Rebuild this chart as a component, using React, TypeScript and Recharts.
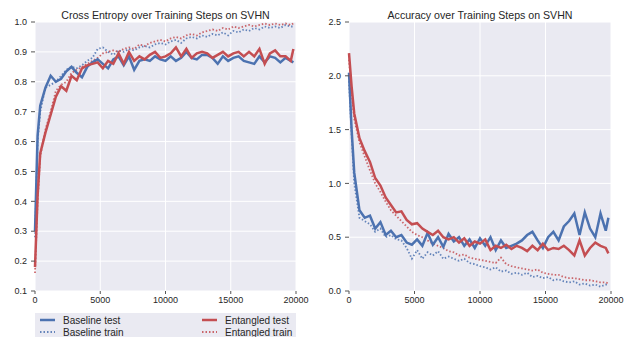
import { LineChart, Line, XAxis, YAxis, CartesianGrid } from 'recharts'

const BLUE = '#4c72b0'
const RED = '#c44e52'
const BG = '#eaeaf2'
const INK = '#262626'
const FONT = '"Liberation Sans", Arial, sans-serif'

const steps = [
  0, 200, 400, 800, 1200, 1600, 2000, 2400, 2800, 3200, 3600, 4000, 4400,
  4800, 5200, 5600, 6000, 6400, 6800, 7200, 7600, 8000, 8400, 8800, 9200,
  9600, 10000, 10400, 10800, 11200, 11600, 12000, 12400, 12800, 13200, 13600,
  14000, 14400, 14800, 15200, 15600, 16000, 16400, 16800, 17200, 17600, 18000,
  18400, 18800, 19200, 19600, 19800,
]
const xTicks = [0, 5000, 10000, 15000, 20000]

// left panel (values 0.1 - 1.0)
const accBaselineTest = [
  0.3, 0.62, 0.72, 0.78, 0.82, 0.8, 0.81, 0.835, 0.85, 0.83, 0.815, 0.85, 0.865,
  0.875, 0.86, 0.845, 0.875, 0.885, 0.855, 0.885, 0.84, 0.87, 0.875, 0.87, 0.885,
  0.875, 0.87, 0.885, 0.87, 0.88, 0.9, 0.88, 0.875, 0.89, 0.89, 0.88,
  0.86, 0.885, 0.87, 0.88, 0.885, 0.87, 0.865, 0.86, 0.885, 0.865, 0.885,
  0.88, 0.865, 0.88, 0.87, 0.865,
]
const accBaselineTrain = [
  0.28, 0.6, 0.7, 0.78, 0.79, 0.8, 0.82, 0.84, 0.85, 0.845, 0.855, 0.87, 0.88,
  0.91, 0.915, 0.9, 0.89, 0.905, 0.9, 0.91, 0.905, 0.915, 0.92, 0.915, 0.925,
  0.93, 0.925, 0.935, 0.94, 0.93, 0.945, 0.95, 0.945, 0.955, 0.95, 0.96,
  0.955, 0.965, 0.955, 0.97, 0.965, 0.975, 0.97, 0.98, 0.975, 0.985, 0.98,
  0.985, 0.98, 0.99, 0.985, 0.985,
]
const accEntangledTest = [
  0.18, 0.42, 0.56, 0.63, 0.69, 0.75, 0.785, 0.77, 0.82, 0.805, 0.845, 0.855, 0.86,
  0.865, 0.845, 0.87, 0.86, 0.895, 0.86, 0.9, 0.87, 0.885, 0.875, 0.89, 0.9,
  0.88, 0.885, 0.895, 0.915, 0.885, 0.91, 0.88, 0.895, 0.9, 0.895, 0.88,
  0.89, 0.9, 0.885, 0.895, 0.9, 0.885, 0.9, 0.885, 0.91, 0.86, 0.895,
  0.905, 0.885, 0.885, 0.87, 0.91,
]
const accEntangledTrain = [
  0.16, 0.4, 0.55, 0.64, 0.7, 0.77, 0.79, 0.8, 0.83, 0.84, 0.85, 0.86, 0.87,
  0.88, 0.895, 0.9, 0.905, 0.9, 0.91, 0.915, 0.91, 0.925, 0.92, 0.93, 0.935,
  0.94, 0.935, 0.945, 0.95, 0.945, 0.955, 0.96, 0.955, 0.965, 0.97, 0.975,
  0.97, 0.98, 0.975, 0.985, 0.98, 0.985, 0.99, 0.985, 0.99, 0.995, 0.99,
  0.995, 0.99, 0.995, 0.99, 0.995,
]

// right panel (values 0.0 - 2.5)
const lossBaselineTest = [
  2.03, 1.5, 1.1, 0.75, 0.68, 0.7, 0.58, 0.64, 0.52, 0.56, 0.5, 0.52, 0.45,
  0.43, 0.48, 0.42, 0.54, 0.43, 0.5, 0.41, 0.53, 0.46, 0.5, 0.42, 0.48,
  0.4, 0.49, 0.42, 0.5, 0.38, 0.47, 0.4, 0.42, 0.44, 0.47, 0.52,
  0.55, 0.47, 0.4, 0.5, 0.55, 0.47, 0.6, 0.65, 0.72, 0.52, 0.73,
  0.58, 0.5, 0.72, 0.56, 0.68,
]
const lossBaselineTrain = [
  1.95, 1.45, 1.0, 0.68, 0.65, 0.62, 0.55, 0.58, 0.5, 0.52, 0.48, 0.47, 0.4,
  0.3, 0.38, 0.3, 0.36, 0.33, 0.37, 0.3, 0.32, 0.3, 0.28, 0.3, 0.26,
  0.25, 0.23, 0.22, 0.2, 0.22, 0.18, 0.19, 0.16, 0.17, 0.15, 0.17,
  0.13, 0.14, 0.12, 0.13, 0.1, 0.11, 0.09, 0.08, 0.09, 0.06, 0.07,
  0.05, 0.06, 0.04, 0.06, 0.05,
]
const lossEntangledTest = [
  2.21, 1.9, 1.65, 1.42, 1.3, 1.2, 1.05, 0.98, 0.87, 0.8, 0.73, 0.74, 0.66,
  0.62, 0.63, 0.58, 0.55, 0.52, 0.56, 0.5, 0.48, 0.5, 0.45, 0.49, 0.42,
  0.46, 0.44, 0.48, 0.38, 0.42, 0.4, 0.43, 0.39, 0.42, 0.4, 0.37,
  0.42, 0.38, 0.44, 0.38, 0.4, 0.39, 0.42, 0.38, 0.33, 0.47, 0.33,
  0.4, 0.45, 0.42, 0.4, 0.35,
]
const lossEntangledTrain = [
  2.15, 1.85, 1.6, 1.38, 1.25, 1.12, 1.0, 0.92, 0.83, 0.75, 0.7, 0.65, 0.6,
  0.55, 0.52, 0.5, 0.47, 0.44, 0.42, 0.4, 0.37, 0.36, 0.33, 0.34, 0.31,
  0.3, 0.29, 0.28, 0.27, 0.26, 0.31, 0.25, 0.23, 0.22, 0.21, 0.2,
  0.19, 0.2, 0.17, 0.16, 0.15, 0.15, 0.13, 0.12, 0.12, 0.11, 0.1,
  0.1, 0.09, 0.08, 0.08, 0.07,
]

const accTicks = [0.1, 0.2, 0.3, 0.4, 0.5, 0.6, 0.7, 0.8, 0.9, 1.0]
const lossTicks = [0, 0.5, 1.0, 1.5, 2.0, 2.5]

const accData = steps.map((step, i) => ({
  step,
  baseTest: accBaselineTest[i],
  baseTrain: accBaselineTrain[i],
  entTest: accEntangledTest[i],
  entTrain: accEntangledTrain[i],
}))

const lossData = steps.map((step, i) => ({
  step,
  baseTest: lossBaselineTest[i],
  baseTrain: lossBaselineTrain[i],
  entTest: lossEntangledTest[i],
  entTrain: lossEntangledTrain[i],
}))

interface PanelProps {
  title: string
  data: typeof accData
  domain: [number, number]
  yTicks: number[]
  left: number
  width: number
  yAxisWidth: number
  marginRight: number
}

function Panel({ title, data, domain, yTicks, left, width, yAxisWidth, marginRight }: PanelProps) {
  const tickStyle = { fontSize: 9, fill: INK, fontFamily: FONT }
  const plotLeft = yAxisWidth
  const plotRight = width - marginRight - 8
  return (
    <div style={{ position: 'absolute', left, top: 0, width, height: 337 }}>
      <div
        style={{
          position: 'absolute',
          left: plotLeft,
          width: plotRight - plotLeft,
          top: 8,
          height: 14,
          lineHeight: '14px',
          textAlign: 'center',
          fontSize: 10.6,
          color: INK,
          fontFamily: FONT,
          whiteSpace: 'nowrap',
        }}
      >
        {title}
      </div>
      <LineChart
        width={width}
        height={337}
        data={data}
        margin={{ top: 18, right: marginRight, bottom: 26, left: 0 }}
      >
        <CartesianGrid stroke="#ffffff" strokeWidth={1} fill={BG} />
        <XAxis
          dataKey="step"
          type="number"
          domain={[0, 20000]}
          ticks={xTicks}
          axisLine={false}
          tickSize={3}
          tickMargin={3}
          tickLine={{ stroke: '#555' }}
          tick={tickStyle}
          height={20}
          interval={0}
        />
        <XAxis
          xAxisId="top"
          orientation="top"
          dataKey="step"
          type="number"
          domain={[0, 20000]}
          ticks={xTicks}
          axisLine={false}
          tickSize={3}
          tickLine={{ stroke: '#555' }}
          tick={false}
          height={4}
        />
        <YAxis
          type="number"
          domain={domain}
          ticks={yTicks}
          axisLine={false}
          tickSize={4}
          tickMargin={4}
          tickLine={{ stroke: '#555' }}
          tick={tickStyle}
          tickFormatter={(v: number) => v.toFixed(1)}
          width={yAxisWidth}
          interval={0}
        />
        <YAxis
          yAxisId="right"
          orientation="right"
          type="number"
          domain={domain}
          ticks={yTicks}
          axisLine={false}
          tickSize={4}
          tickLine={{ stroke: '#555' }}
          tick={false}
          width={8}
        />
        <Line
          dataKey="baseTrain"
          stroke={BLUE}
          strokeWidth={1.8}
          strokeDasharray="1.5 2"
          strokeOpacity={0.85}
          dot={false}
          isAnimationActive={false}
        />
        <Line
          dataKey="entTrain"
          stroke={RED}
          strokeWidth={1.8}
          strokeDasharray="1.5 2"
          strokeOpacity={0.85}
          dot={false}
          isAnimationActive={false}
        />
        <Line
          dataKey="baseTest"
          stroke={BLUE}
          strokeWidth={2.5}
          dot={false}
          isAnimationActive={false}
        />
        <Line
          dataKey="entTest"
          stroke={RED}
          strokeWidth={2.5}
          dot={false}
          isAnimationActive={false}
        />
      </LineChart>
    </div>
  )
}

const legendItems = [
  { label: 'Baseline test', color: BLUE, dashed: false, x: 5, y: 7 },
  { label: 'Baseline train', color: BLUE, dashed: true, x: 5, y: 19 },
  { label: 'Entangled test', color: RED, dashed: false, x: 167, y: 7 },
  { label: 'Entangled train', color: RED, dashed: true, x: 167, y: 19 },
]

function Legend() {
  return (
    <div
      style={{
        position: 'absolute',
        left: 35,
        top: 313,
        width: 261,
        height: 30,
        background: BG,
      }}
    >
      {legendItems.map((it) => (
        <div
          key={it.label}
          style={{
            position: 'absolute',
            left: it.x,
            top: it.y - 6,
            height: 12,
            display: 'flex',
            alignItems: 'center',
          }}
        >
          <svg width={15} height={12}>
            <line
              x1={0}
              x2={15}
              y1={6}
              y2={6}
              stroke={it.color}
              strokeWidth={it.dashed ? 1.8 : 2.5}
              strokeDasharray={it.dashed ? '1.5 2' : undefined}
              strokeOpacity={it.dashed ? 0.85 : 1}
            />
          </svg>
          <span
            style={{
              marginLeft: 8,
              fontSize: 10,
              color: INK,
              fontFamily: FONT,
              whiteSpace: 'nowrap',
            }}
          >
            {it.label}
          </span>
        </div>
      ))}
    </div>
  )
}

export default function App() {
  return (
    <div
      style={{
        position: 'absolute',
        left: 0,
        top: 0,
        width: 626,
        height: 337,
        background: '#ffffff',
        overflow: 'hidden',
      }}
    >
      <Panel
        title="Cross Entropy over Training Steps on SVHN"
        data={accData}
        domain={[0.1, 1.0]}
        yTicks={accTicks}
        left={0}
        width={310}
        yAxisWidth={35}
        marginRight={6}
      />
      <Panel
        title="Accuracy over Training Steps on SVHN"
        data={lossData}
        domain={[0, 2.5]}
        yTicks={lossTicks}
        left={310}
        width={316}
        yAxisWidth={39}
        marginRight={7}
      />
      <Legend />
    </div>
  )
}
